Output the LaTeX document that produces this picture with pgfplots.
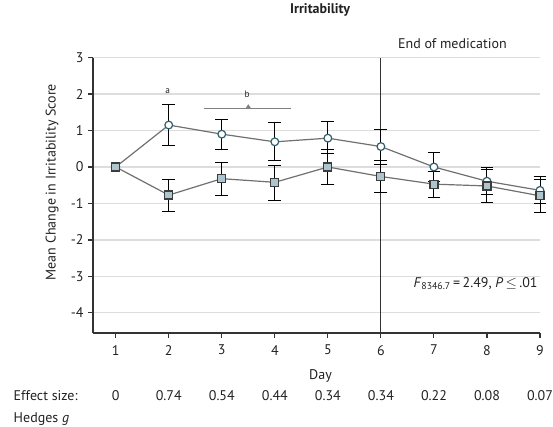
\documentclass[border=0pt]{standalone}
\usepackage{pgfplots}
\pgfplotsset{compat=1.18}
\usepackage{pgfplotstable}
\usepackage{fontspec}
\setmainfont{PT Sans}
\definecolor{txt}{HTML}{222222}
\definecolor{axc}{HTML}{333333}
\definecolor{gridc}{HTML}{DDDDDD}
\definecolor{linec}{HTML}{707070}
\definecolor{circedge}{HTML}{2F5F70}
\definecolor{sqfill}{HTML}{AFC5CE}
\definecolor{sqedge}{HTML}{3C3C3C}

\pgfplotstableread{
day y ep em
1 0.00 0 0
2 1.15 0.57 0.55
3 0.90 0.41 0.43
4 0.69 0.52 0.50
5 0.79 0.45 0.42
6 0.56 0.48 0.48
7 0.00 0.41 0.41
8 -0.39 0.37 0.37
9 -0.64 0.37 0.37
}\treat
\pgfplotstableread{
day y ep em
1 0.00 0 0
2 -0.77 0.44 0.46
3 -0.32 0.44 0.47
4 -0.42 0.47 0.50
5 0.00 0.48 0.48
6 -0.26 0.43 0.43
7 -0.47 0.36 0.36
8 -0.52 0.44 0.44
9 -0.79 0.45 0.45
}\placebo
\pgfplotstableread{
day y ep em
2 1.15 0.57 0.55
3 0.90 0.41 0.43
4 0.69 0.52 0.50
5 0.79 0.45 0.42
6 0.56 0.48 0.48
7 0.00 0.41 0.41
8 -0.39 0.37 0.37
9 -0.64 0.37 0.37
}\treaterr
\pgfplotstableread{
day y ep em
2 -0.77 0.44 0.46
3 -0.32 0.44 0.47
4 -0.42 0.47 0.50
5 0.00 0.48 0.48
6 -0.26 0.43 0.43
7 -0.47 0.36 0.36
8 -0.52 0.44 0.44
9 -0.79 0.45 0.45
}\placeboerr

\begin{document}
\begin{tikzpicture}[font=\fontsize{10.5}{12.6}\selectfont, text=txt]
\begin{axis}[
  at={(69.75pt,69.75pt)}, anchor=south west,
  scale only axis, width=335.25pt, height=206.6pt,
  xmin=0.572, xmax=9, ymin=-4.55, ymax=3,
  axis x line*=bottom, axis y line*=left,
  axis line style={draw=axc, line width=0.8pt, -},
  xtick={1,...,9}, ytick={-4,...,3},
  tick align=outside, major tick length=3.5pt,
  tick style={axc, line width=0.8pt},
  ymajorgrids, major grid style={gridc, line width=0.8pt},
  clip=false,
  /pgf/number format/assume math mode=true,
  xticklabel style={yshift=-2pt},
  title={\bfseries Irritability},
  title style={at={(axis description cs:0.508,1.143)}, anchor=center, inner sep=0pt},
  xlabel={Day},
  xlabel style={at={(axis description cs:0.509,-0.156)}, anchor=center, inner sep=0pt},
  ylabel={Mean Change in Irritability Score},
  ylabel style={at={(axis description cs:-0.0917,0.548)}, anchor=center, inner sep=0pt, rotate=0},
]
% vertical end-of-medication line
\addplot[axc, line width=0.8pt, forget plot] coordinates {(6,-4.55) (6,3)};

% error bars
\addplot[black, line width=0.75pt, only marks, mark=none, forget plot,
  error bars/.cd, y dir=both, y explicit,
  error mark options={black, line width=0.75pt, mark size=4.8pt, rotate=90},
  error bar style={black, line width=0.75pt}]
  table[x=day, y=y, y error plus=ep, y error minus=em] {\treaterr};
\addplot[black, line width=0.75pt, only marks, mark=none, forget plot,
  error bars/.cd, y dir=both, y explicit,
  error mark options={black, line width=0.75pt, mark size=4.8pt, rotate=90},
  error bar style={black, line width=0.75pt}]
  table[x=day, y=y, y error plus=ep, y error minus=em] {\placeboerr};

% series
\addplot[linec, line width=0.9pt, mark=*, mark size=2.9pt,
  mark options={fill=white, draw=circedge, line width=0.9pt}]
  table[x=day, y=y] {\treat};
\addplot[linec, line width=0.9pt, mark=square*, mark size=3pt,
  mark options={fill=sqfill, draw=sqedge, line width=0.9pt}]
  table[x=day, y=y] {\placebo};

% annotations
\node[font=\fontsize{7}{8}\selectfont] at (axis cs:1.98,2.07) {a};
\node[font=\fontsize{7}{8}\selectfont] at (axis cs:3.48,1.98) {b};
\draw[gray, line width=0.7pt] (axis cs:2.67,1.61) -- (axis cs:4.30,1.61);
\fill[gray] (axis cs:3.45,1.61) -- (axis cs:3.55,1.61) -- (axis cs:3.50,1.72) -- cycle;

\node[anchor=west, inner sep=0pt] at (axis cs:6.32,3.39) {End of medication};
\node[anchor=east, inner sep=0pt] at (axis cs:8.96,-3.19)
  {\textit{F}\textsubscript{8346.7}\,=\,2.49, \textit{P}\,$\leq$\,.01};
\end{axis}

% effect size row (absolute positions)
\node[anchor=base west, inner sep=0pt] at (10.1pt,19pt) {Effect size:};
\node[anchor=base west, inner sep=0pt] at (10.1pt,2.5pt) {Hedges \textit{g}};
\foreach \d/\v in {1/0,2/0.74,3/0.54,4/0.44,5/0.34,6/0.34,7/0.22,8/0.08,9/0.07}{
  \node[anchor=base, inner sep=0pt] at ({86.8pt+(\d-1)*39.78pt},19pt) {\v};
}
\pgfresetboundingbox
\path (0,0) rectangle (414.75pt,319.5pt);
\end{tikzpicture}
\end{document}
